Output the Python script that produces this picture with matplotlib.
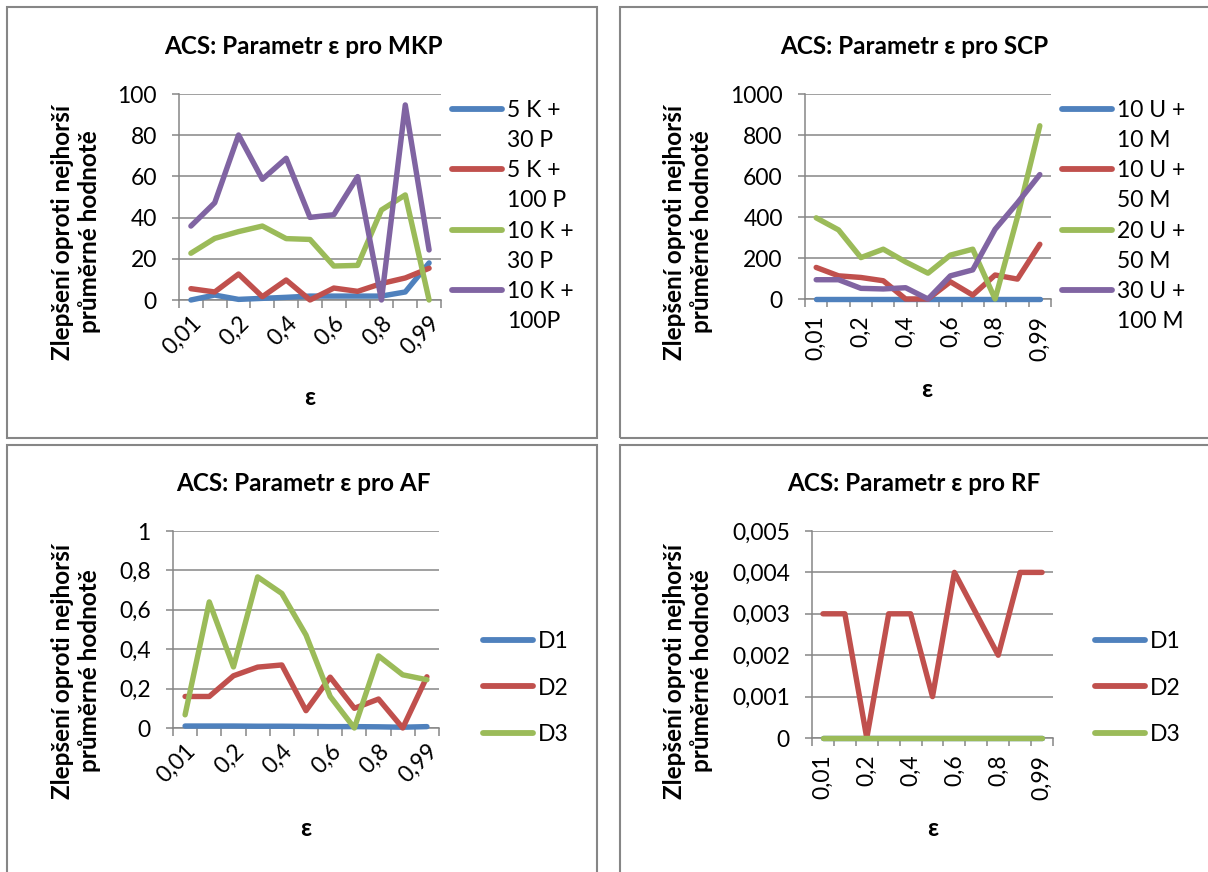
import numpy as np
import matplotlib
matplotlib.use('Agg')
import matplotlib.pyplot as plt
from matplotlib.lines import Line2D
from matplotlib.patches import Rectangle

plt.rcParams['font.family'] = ['Lato', 'DejaVu Sans']

W, H = 1208, 872

# categories on the x axis (epsilon)
eps = ['0,01', '0,1', '0,2', '0,3', '0,4', '0,5', '0,6', '0,7', '0,8', '0,9', '0,99']

# MKP
mkp_names = ['5 K +\n30 P', '5 K +\n100 P', '10 K +\n30 P', '10 K +\n100P']
mkp_5k30p = [0, 2.4, 0.3, 0.8, 1.3, 1.9, 1.9, 1.9, 1.9, 3.9, 18]
mkp_5k100p = [5.5, 3.9, 12.6, 1.6, 9.7, 0, 5.8, 4.2, 8, 10.7, 15.4]
mkp_10k30p = [22.7, 29.9, 33.2, 35.9, 29.8, 29.4, 16.5, 16.8, 43.7, 51, 0]
mkp_10k100p = [35.9, 47.2, 80.1, 58.6, 68.8, 40.1, 41.4, 59.9, 0, 94.7, 24.3]
mkp_yticks = [0, 20, 40, 60, 80, 100]

# SCP
scp_names = ['10 U +\n10 M', '10 U +\n50 M', '20 U +\n50 M', '30 U +\n100 M']
scp_10u10m = [0, 0, 0, 0, 0, 0, 0, 0, 0, 0, 0]
scp_10u50m = [154, 113, 105, 89, 0, 0, 84, 19, 117, 97, 267]
scp_20u50m = [396, 337, 202, 243, 181, 126, 214, 243, 0, 400, 845]
scp_30u100m = [94, 94, 52, 49, 55, 0, 113, 142, 340, 469, 607]
scp_yticks = [0, 200, 400, 600, 800, 1000]

# AF
af_names = ['D1', 'D2', 'D3']
af_d1 = [0.01, 0.01, 0.01, 0.009, 0.009, 0.008, 0.007, 0.007, 0.006, 0.004, 0.007]
af_d2 = [0.16, 0.16, 0.265, 0.309, 0.32, 0.088, 0.258, 0.1, 0.147, 0, 0.26]
af_d3 = [0.067, 0.64, 0.31, 0.767, 0.683, 0.472, 0.16, 0, 0.366, 0.27, 0.245]
af_yticks = [0, 0.2, 0.4, 0.6, 0.8, 1]

# RF
rf_names = ['D1', 'D2', 'D3']
rf_d1 = [0, 0, 0, 0, 0, 0, 0, 0, 0, 0, 0]
rf_d2 = [0.003, 0.003, 0, 0.003, 0.003, 0.001, 0.004, 0.003, 0.002, 0.004, 0.004]
rf_d3 = [0, 0, 0, 0, 0, 0, 0, 0, 0, 0, 0]
rf_yticks = [0, 0.001, 0.002, 0.003, 0.004, 0.005]

colors = ['#4F81BD', '#C0504D', '#9BBB59', '#8064A2']
grey = '#868686'
ylab = 'Zlepšení oproti nejhorší\nprůměrné hodnotě'
FS = 16.5      # tick and legend text
FS_B = 17.5    # bold titles


def fx(x):
    return x / W


def fy(y):
    return 1 - y / H


def fmt(v):
    return f'{v:g}'.replace('.', ',')


def panel(fig, box, rect, title, title_xy, names, series, yticks, rot,
          xlab_xy, ylab_xy, leg_xy, leg_space):
    # chart frame
    bx0, by0, bx1, by1 = box
    fig.patches.append(Rectangle((fx(bx0), fy(by1)), fx(bx1 - bx0), (by1 - by0) / H,
                                 transform=fig.transFigure, fill=False,
                                 edgecolor=grey, linewidth=1.5))

    l, t, r, b = rect
    ax = fig.add_axes([fx(l), fy(b), fx(r - l), (b - t) / H])
    x = np.arange(len(eps))
    for vals, c in zip(series, colors):
        ax.plot(x, vals, color=c, lw=3.9, solid_joinstyle='round',
                solid_capstyle='round', clip_on=False, zorder=3)

    ax.set_xlim(-0.5, len(eps) - 0.5)
    ax.set_ylim(yticks[0], yticks[-1])
    ax.set_yticks(yticks)
    ax.set_yticklabels([fmt(v) for v in yticks], fontsize=FS)
    ax.yaxis.grid(True, color=grey, lw=1.1)
    ax.set_axisbelow(True)

    ax.set_xticks(x[::2])
    if rot == 45:
        ax.set_xticklabels(eps[::2], rotation=45, ha='right', va='top',
                           rotation_mode='anchor', fontsize=FS)
    else:
        ax.set_xticklabels(eps[::2], rotation=90, ha='right', va='center',
                           rotation_mode='anchor', fontsize=FS)
    ax.set_xticks(np.arange(len(eps) + 1) - 0.5, minor=True)
    ax.tick_params(axis='x', which='major', length=0, pad=9 if rot == 45 else 12)
    ax.tick_params(axis='x', which='minor', length=5.5, width=1.1, color=grey)
    ax.tick_params(axis='y', length=5, width=1.1, color=grey, pad=11)

    for s in ['top', 'right']:
        ax.spines[s].set_visible(False)
    for s in ['left', 'bottom']:
        ax.spines[s].set_color(grey)
        ax.spines[s].set_linewidth(1.1)

    fig.text(fx(title_xy[0]), fy(title_xy[1]), title, fontsize=FS_B,
             fontweight='bold', ha='center', va='center')
    fig.text(fx(xlab_xy[0]), fy(xlab_xy[1]), 'ε', fontsize=FS_B,
             fontweight='bold', ha='center', va='center')
    fig.text(fx(ylab_xy[0]), fy(ylab_xy[1]), ylab, fontsize=FS_B,
             fontweight='bold', ha='center', va='center', rotation=90,
             multialignment='center', linespacing=1.25)

    # legend, wrapped names continue on their own row without a line
    handles, labels = [], []
    for name, c in zip(names, colors):
        rows = name.split('\n')
        handles.append(Line2D([], [], color=c, lw=4.2, solid_capstyle='round'))
        labels.append(rows[0])
        for extra in rows[1:]:
            handles.append(Line2D([], [], color='none'))
            labels.append(extra)
    fig.legend(handles, labels, loc='center left',
               bbox_to_anchor=(fx(leg_xy[0]), fy(leg_xy[1])),
               frameon=False, fontsize=FS, handlelength=2.2,
               handletextpad=0.2, borderpad=0, borderaxespad=0,
               labelspacing=leg_space)
    return ax


fig = plt.figure(figsize=(W / 100, H / 100), dpi=100)

panel(fig, (7.5, 7.5, 597, 438), (179, 94, 441, 300),
      'ACS: Parametr ε pro MKP', (303, 46), mkp_names,
      [mkp_5k30p, mkp_5k100p, mkp_10k30p, mkp_10k100p], mkp_yticks, 45,
      (310, 397), (76, 232), (452, 216), 0.4)

panel(fig, (620, 7.5, 1215, 438), (805, 94, 1051, 299),
      'ACS: Parametr ε pro SCP', (914, 46), scp_names,
      [scp_10u10m, scp_10u50m, scp_20u50m, scp_30u100m], scp_yticks, 90,
      (927, 389), (688, 232), (1062, 216), 0.4)

panel(fig, (7.5, 445, 597, 880), (173, 531, 439, 728),
      'ACS: Parametr ε pro AF', (303, 483), af_names,
      [af_d1, af_d2, af_d3], af_yticks, 45,
      (306, 828), (76, 671), (483, 688), 1.12)

panel(fig, (620, 445, 1215, 880), (812, 531, 1053, 738),
      'ACS: Parametr ε pro RF', (914, 483), rf_names,
      [rf_d1, rf_d2, rf_d3], rf_yticks, 90,
      (933, 828), (688, 671), (1095, 688), 1.12)

fig.savefig('out.png', dpi=100)
